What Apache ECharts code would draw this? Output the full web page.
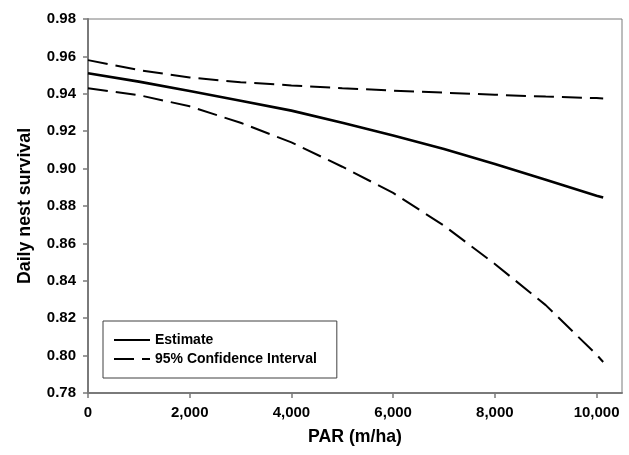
<!DOCTYPE html>
<html>
<head>
<meta charset="utf-8">
<script src="https://cdn.jsdelivr.net/npm/echarts@6/dist/echarts.min.js"></script>
<style>
html,body{margin:0;padding:0;background:#fff;}
#c{width:629px;height:455px;}
</style>
</head>
<body>
<div id="c"></div>
<script>
// PAR (m/ha)
const par = [0, 1000, 2000, 3000, 4000, 5000, 6000, 7000, 8000, 9000, 10000, 10130];
const estimate = [0.951, 0.9465, 0.9415, 0.9363, 0.931, 0.9245, 0.9177, 0.9105, 0.9025, 0.894, 0.8855, 0.8845];
const upperCI = [0.958, 0.9527, 0.9487, 0.9462, 0.9445, 0.943, 0.9417, 0.9406, 0.9395, 0.9385, 0.9377, 0.9375];
const lowerCI = [0.943, 0.9393, 0.9333, 0.9245, 0.914, 0.901, 0.887, 0.8695, 0.849, 0.827, 0.8005, 0.7966];
const xTicks = [0, 2000, 4000, 6000, 8000, 10000];

const font = 'Liberation Sans, Arial, sans-serif';
const axisGray = '#7a7a7a';
const pts = (ys) => par.map((x, i) => [x, ys[i]]);

const chart = echarts.init(document.getElementById('c'));
chart.setOption({
  animation: false,
  backgroundColor: '#fff',
  grid: {left: 88, right: 7, top: 19, bottom: 62, show: true, borderColor: axisGray, borderWidth: 1},
  legend: {
    orient: 'vertical', left: 103, top: 321,
    padding: [12, 20, 12, 10], itemGap: 5,
    itemWidth: 36, itemHeight: 14,
    borderColor: '#404040', borderWidth: 1, backgroundColor: '#fff',
    itemStyle: {opacity: 0},
    textStyle: {fontFamily: font, fontWeight: 'bold', fontSize: 14, color: '#000'},
    data: ['Estimate', '95% Confidence Interval']
  },
  xAxis: {
    type: 'value', min: 0, max: 10500, interval: 2000,
    name: 'PAR (m/ha)', nameLocation: 'middle', nameGap: 35,
    nameTextStyle: {fontFamily: font, fontWeight: 'bold', fontSize: 17.7, color: '#000'},
    axisLine: {show: true, lineStyle: {color: axisGray, width: 2}},
    axisTick: {show: true, length: 5, inside: false, lineStyle: {color: axisGray, width: 1.5}, customValues: xTicks},
    axisLabel: {margin: 12, fontFamily: font, fontWeight: 'bold', fontSize: 15, color: '#000',
      customValues: xTicks,
      formatter: v => Number(v).toLocaleString('en-US')},
    splitLine: {show: false}
  },
  yAxis: {
    type: 'value', min: 0.78, max: 0.98, interval: 0.02,
    name: 'Daily nest survival', nameLocation: 'middle', nameGap: 54,
    nameTextStyle: {fontFamily: font, fontWeight: 'bold', fontSize: 17.8, color: '#000'},
    axisLine: {show: true, lineStyle: {color: axisGray, width: 2}},
    axisTick: {show: true, length: 5, lineStyle: {color: axisGray, width: 1.5}},
    axisLabel: {margin: 12, fontFamily: font, fontWeight: 'bold', fontSize: 15, color: '#000',
      formatter: v => Number(v).toFixed(2)},
    splitLine: {show: false}
  },
  series: [
    {name: 'Estimate', type: 'line', data: pts(estimate), smooth: false, symbol: 'none',
      lineStyle: {color: '#000', width: 2.6}, itemStyle: {color: '#000'}},
    {name: '95% Confidence Interval', type: 'line', data: pts(upperCI), smooth: false, symbol: 'none',
      lineStyle: {color: '#000', width: 2, type: [20, 8]}, itemStyle: {color: '#000'}},
    {name: '95% Confidence Interval', type: 'line', data: pts(lowerCI), smooth: false, symbol: 'none',
      lineStyle: {color: '#000', width: 2, type: [20, 8]}, itemStyle: {color: '#000'}}
  ]
});
</script>
</body>
</html>
